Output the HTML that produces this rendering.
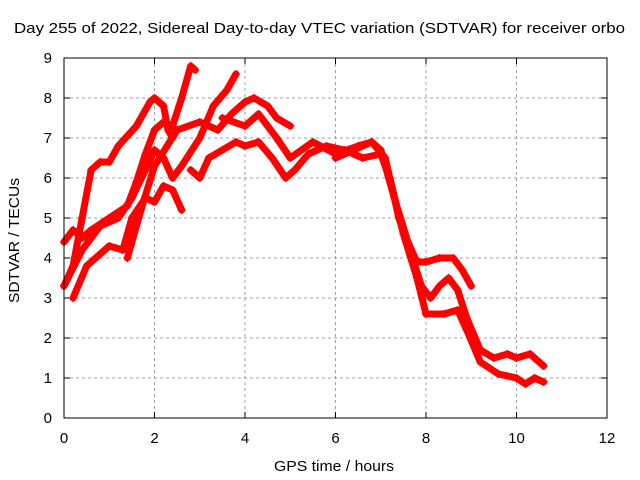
<!DOCTYPE html>
<html><head><meta charset="utf-8"><style>body{margin:0;background:#fff}svg{display:block;font-family:"Liberation Sans",sans-serif}</style></head>
<body>
<svg id="c" width="640" height="480">
<text x="14" y="33" font-size="15" textLength="611" lengthAdjust="spacingAndGlyphs">Day 255 of 2022, Sidereal Day-to-day VTEC variation (SDTVAR) for receiver orbo</text>
<text x="274" y="471" font-size="15" textLength="120" lengthAdjust="spacingAndGlyphs">GPS time / hours</text>
<text transform="translate(19,303) rotate(-90)" font-size="15" textLength="125" lengthAdjust="spacingAndGlyphs">SDTVAR / TECUs</text>
<g id="grid"></g><g id="series"></g>
<rect x="64" y="58" width="543" height="360" fill="none" stroke="#000"/>
</svg>
<script>
const xTicks=[0,2,4,6,8,10,12];
const yTicks=[0,1,2,3,4,5,6,7,8,9];
const s1=[[0,4.4],[0.2,4.7],[0.4,4.5],[0.6,4.7],[1.0,5.0],[1.4,5.3],[1.6,5.9],[1.8,6.6],[2.0,7.2],[2.2,7.4],[2.4,7.3],[2.6,8.0],[2.8,8.8],[2.9,8.7]];
const s2=[[0,3.3],[0.2,3.8],[0.4,5.0],[0.6,6.2],[0.8,6.4],[1.0,6.4],[1.2,6.8],[1.6,7.3],[1.9,7.9],[2.0,8.0],[2.2,7.8],[2.3,7.2],[2.4,7.0]];
const s3=[[0.2,3.0],[0.5,3.8],[0.9,4.2],[1.0,4.3],[1.3,4.2],[1.5,5.0],[1.8,5.5],[2.0,5.4],[2.2,5.8],[2.4,5.7],[2.6,5.2]];
const s4=[[0,3.3],[0.4,4.2],[0.8,4.8],[1.2,5.0],[1.5,5.5],[1.8,6.2],[2.0,6.7],[2.2,6.5],[2.4,6.0],[2.6,6.3],[3.0,7.0],[3.3,7.8],[3.6,8.2],[3.8,8.6]];
const s5=[[2.8,6.2],[3.0,6.0],[3.2,6.5],[3.5,6.7],[3.8,6.9],[4.0,6.8],[4.3,6.9],[4.6,6.5],[4.9,6.0],[5.1,6.2],[5.4,6.6],[5.8,6.8],[6.2,6.7],[6.6,6.5],[7.0,6.6],[7.2,6.0],[7.5,4.6],[7.8,3.5],[8.0,2.6],[8.4,2.6],[8.7,2.7],[8.9,2.2],[9.2,1.4],[9.6,1.1],[10.0,1.0],[10.2,0.85],[10.4,1.0],[10.6,0.9]];
const s6=[[1.4,4.0],[1.7,5.2],[2.0,6.3],[2.5,7.2],[3.0,7.4],[3.4,7.2],[3.7,7.6],[4.0,7.9],[4.2,8.0],[4.5,7.8],[4.7,7.5],[5.0,7.3]];
const s7=[[3.5,7.5],[4.0,7.3],[4.3,7.6],[4.7,7.0],[5.0,6.5],[5.5,6.9],[6.0,6.6],[6.5,6.8],[6.8,6.9],[7.0,6.7],[7.3,5.5],[7.6,4.4],[7.8,3.9],[8.0,3.9],[8.3,4.0],[8.6,4.0],[8.8,3.7],[9.0,3.3]];
const s8=[[6.0,6.5],[6.4,6.7],[6.8,6.9],[7.1,6.5],[7.4,5.0],[7.7,4.0],[7.9,3.3],[8.1,3.0],[8.3,3.3],[8.5,3.5],[8.7,3.2],[8.9,2.5],[9.2,1.7],[9.5,1.5],[9.8,1.6],[10.0,1.5],[10.3,1.6],[10.5,1.4],[10.6,1.3]];
const allSeries=[s1,s2,s3,s4,s5,s6,s7,s8];
const X=v=>64+v*543/12, Y=v=>418-v*40;
const NS='http://www.w3.org/2000/svg';
const g=document.getElementById('grid'), sg=document.getElementById('series');
function mk(t,a,p){const e=document.createElementNS(NS,t);for(const k in a)e.setAttribute(k,a[k]);p.appendChild(e);return e;}
xTicks.forEach(t=>{const x=X(t);
 if(t>0&&t<12){const l=mk('line',{x1:x,y1:58,x2:x,y2:418,stroke:'#a0a0a0','stroke-dasharray':'3,3'},g);}
 mk('line',{x1:x,y1:418,x2:x,y2:412,stroke:'#000'},g);mk('line',{x1:x,y1:58,x2:x,y2:64,stroke:'#000'},g);
 const tx=mk('text',{x:x,y:443,'font-size':15,'text-anchor':'middle'},g);tx.textContent=t;
 });
yTicks.forEach(t=>{const y=Y(t);
 if(t>0&&t<9){const l=mk('line',{x1:64,y1:y,x2:607,y2:y,stroke:'#a0a0a0','stroke-dasharray':'3,3'},g);}
 mk('line',{x1:64,y1:y,x2:70,y2:y,stroke:'#000'},g);mk('line',{x1:607,y1:y,x2:601,y2:y,stroke:'#000'},g);
 const tx=mk('text',{x:52,y:y+5,'font-size':15,'text-anchor':'end'},g);tx.textContent=t;
 });
allSeries.forEach((s,i)=>{
 const pl=mk('polyline',{points:s.map(p=>X(p[0])+','+Y(p[1])).join(' '),fill:'none',stroke:'#f00','stroke-width':7,'stroke-linejoin':'round','stroke-linecap':'round'},sg);
 
 
 s.forEach(p=>{const x=X(p[0]),y=Y(p[1]);
  const m=mk('path',{d:`M${x-4},${y}H${x+4}M${x},${y-4}V${y+4}`,stroke:'#f00','stroke-width':1.3},sg);
  
  });
});
</script>
</body></html>
